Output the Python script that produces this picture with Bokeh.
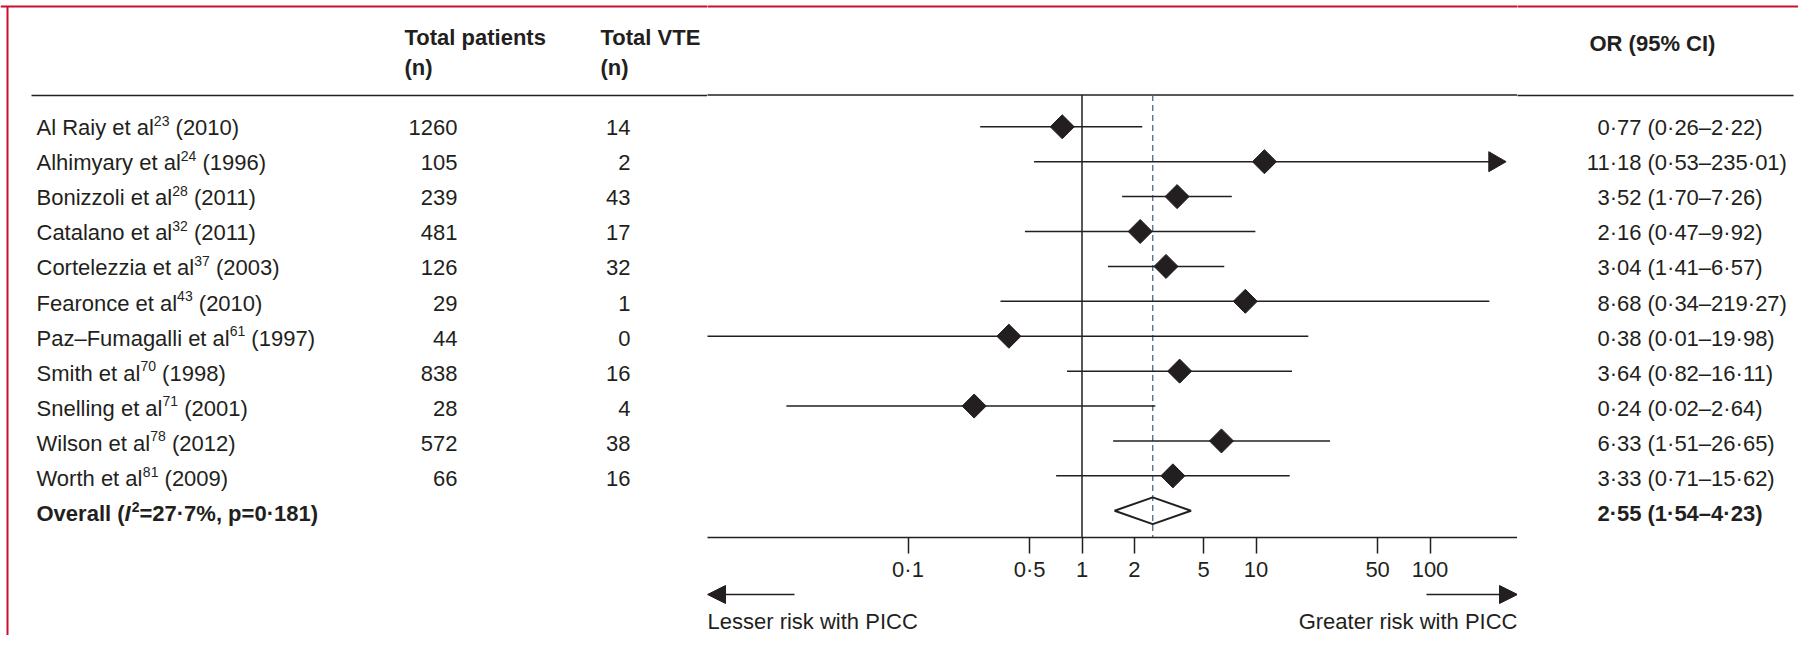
from math import pi
from bokeh.plotting import figure
from bokeh.layouts import row, column
from bokeh.models import Range1d, FixedTicker, Arrow, NormalHead, ColumnDataSource
from bokeh.core.properties import value
from bokeh.embed import file_html
from bokeh.resources import INLINE

# ---------------- data ----------------
authors = ["Al Raiy", "Alhimyary", "Bonizzoli", "Catalano", "Cortelezzia", "Fearonce",
           "Paz–Fumagalli", "Smith", "Snelling", "Wilson", "Worth"]
refs = ["23", "24", "28", "32", "37", "43", "61", "70", "71", "78", "81"]
years = ["2010", "1996", "2011", "2011", "2003", "2010", "1997", "1998", "2001", "2012", "2009"]
patients = [1260, 105, 239, 481, 126, 29, 44, 838, 28, 572, 66]
vte = [14, 2, 43, 17, 32, 1, 0, 16, 4, 38, 16]
or_est = [0.77, 11.18, 3.52, 2.16, 3.04, 8.68, 0.38, 3.64, 0.24, 6.33, 3.33]
ci_lo = [0.26, 0.53, 1.70, 0.47, 1.41, 0.34, 0.007, 0.82, 0.02, 1.51, 0.71]
ci_hi = [2.22, 235.01, 7.26, 9.92, 6.57, 219.27, 19.98, 16.11, 2.64, 26.65, 15.62]
ci_truncated = [False, True, False, False, False, False, False, False, False, False, False]
overall_parts = ["Overall (", "I", "2", "=27·7%, p=0·181)"]
overall_est, overall_lo, overall_hi = 2.55, 1.54, 4.23
ticks = [0.1, 0.5, 1, 2, 5, 10, 50, 100]
header_cols = ["Total patients", "Total VTE"]
header_sub = ["(n)", "(n)"]
or_header = "OR (95% CI)"
left_note = "Lesser risk with PICC"
right_note = "Greater risk with PICC"

# ---------------- style / geometry ----------------
FONT = "Liberation Sans"
FSN = 22
FS = f"{FSN}px"
SUPN = 14
INK = "#231f20"
CRIMSON = "#c8102e"
DASH_COL = "#4d6a80"
ROW_PX = 35.1
ROW0 = 127.0

# Liberation Sans (Arial-metric) advance widths, per 1000 em
W_REG = {" ": 278, "(": 333, ")": 333, "–": 556, "A": 667, "B": 667, "C": 722, "F": 611,
         "P": 667, "R": 722, "S": 667, "W": 944, "a": 556, "c": 500, "e": 556, "g": 556,
         "h": 556, "i": 222, "l": 222, "m": 833, "n": 556, "o": 556, "r": 333, "s": 500,
         "t": 278, "u": 556, "y": 500, "z": 500}
W_BOLD = {"O": 778, "v": 556, "e": 556, "r": 389, "a": 556, "l": 278, " ": 278, "(": 333,
          "I": 278}


def tw(s, size, table=W_REG):
    return sum(table.get(c, 556) for c in s) * size / 1000.0


def yv(page_y):
    return (ROW0 - page_y) / ROW_PX


Y_TOP = yv(0)
Y_MID_BOTTOM = yv(540)
Y_FULL_BOTTOM = yv(635)
Y_HEAD1, Y_HEAD2, Y_ORHEAD, Y_RULE, Y_BORDER = yv(37), yv(67), yv(43), yv(95), yv(6)

n = len(authors)
rows_y = [-i for i in range(n)]
y_over = -n


def fmt(v):
    return f"{v:.2f}".replace(".", "·")


def base_fig(**kw):
    p = figure(toolbar_location=None, output_backend="svg", min_border=0,
               outline_line_color=None, background_fill_color="white",
               border_fill_color="white", **kw)
    p.grid.visible = False
    return p


def txt(p, x, y, text, align="left", style="normal", size=FS, dy=0):
    src = ColumnDataSource(dict(x=x, y=y, text=text))
    p.text(x="x", y="y", text="text", source=src, text_font=value(FONT),
           text_font_size=size, text_color=INK, text_align=align,
           text_baseline="middle", text_font_style=style, y_offset=dy)


# ---------------- left table ----------------
LX = 36
left = base_fig(width=707, height=635, x_range=Range1d(0, 707),
                y_range=Range1d(Y_FULL_BOTTOM, Y_TOP),
                x_axis_location=None, y_axis_location=None)
bases = [f"{a} et al" for a in authors]
x_sup = [LX + tw(b, FSN) for b in bases]
x_rest = [xs + tw(r, SUPN) + tw(" ", FSN) for xs, r in zip(x_sup, refs)]
txt(left, [LX] * n, rows_y, bases)
txt(left, x_sup, rows_y, refs, size=f"{SUPN}px", dy=-7)
txt(left, x_rest, rows_y, [f"({y})" for y in years])
txt(left, [457] * n, rows_y, [str(v) for v in patients], align="right")
txt(left, [630] * n, rows_y, [str(v) for v in vte], align="right")
txt(left, [404, 600], [Y_HEAD1] * 2, header_cols, style="bold")
txt(left, [404, 600], [Y_HEAD2] * 2, header_sub, style="bold")
ox1 = LX + tw(overall_parts[0], FSN, W_BOLD)
ox2 = ox1 + tw(overall_parts[1], FSN, W_BOLD) + 1
ox3 = ox2 + tw(overall_parts[2], SUPN)
txt(left, [LX], [y_over], [overall_parts[0]], style="bold")
txt(left, [ox1], [y_over], [overall_parts[1]], style="bold italic")
txt(left, [ox2], [y_over], [overall_parts[2]], style="bold", size=f"{SUPN}px", dy=-7)
txt(left, [ox3], [y_over], [overall_parts[3]], style="bold")
left.segment(x0=[31], y0=[Y_RULE], x1=[720], y1=[Y_RULE], line_color=INK, line_width=1.5)
left.segment(x0=[0], y0=[Y_BORDER], x1=[720], y1=[Y_BORDER], line_color=CRIMSON, line_width=2)
left.segment(x0=[7], y0=[Y_BORDER], x1=[7], y1=[Y_FULL_BOTTOM - 1], line_color=CRIMSON, line_width=2)

# ---------------- forest ----------------
XR = Range1d(10 ** ((707 - 1081.5) / 174), 10 ** ((1517 - 1081.5) / 174))
mid = base_fig(width=810, height=584, x_axis_type="log", x_range=XR,
               y_range=Range1d(Y_MID_BOTTOM, Y_TOP), y_axis_location=None,
               min_border_bottom=44)
mid.xaxis.ticker = FixedTicker(ticks=ticks, minor_ticks=[])
mid.xaxis.major_label_overrides = {float(t): str(t).replace(".", "·") for t in ticks}
ax = mid.xaxis[0]
ax.axis_line_color = INK
ax.axis_line_width = 1.5
ax.major_tick_line_color = INK
ax.major_tick_line_width = 1.5
ax.major_tick_out = 16
ax.major_tick_in = 0
ax.minor_tick_line_color = None
ax.major_label_text_font = FONT
ax.major_label_text_font_size = FS
ax.major_label_text_color = INK
ax.major_label_standoff = 3

mid.segment(x0=[XR.start / 1.2], y0=[Y_RULE], x1=[XR.end * 1.2], y1=[Y_RULE], line_color=INK, line_width=1.5)
mid.segment(x0=[XR.start / 1.2], y0=[Y_BORDER], x1=[XR.end * 1.2], y1=[Y_BORDER], line_color=CRIMSON, line_width=2)
mid.segment(x0=[1], y0=[Y_RULE], x1=[1], y1=[Y_MID_BOTTOM], line_color=INK, line_width=1.5)
mid.segment(x0=[overall_est], y0=[Y_RULE], x1=[overall_est], y1=[Y_MID_BOTTOM],
            line_color=DASH_COL, line_width=1.3, line_dash="6 4")

mid.segment(x0=ci_lo, y0=rows_y, x1=ci_hi, y1=rows_y, line_color=INK, line_width=1.5)
mid.scatter(x=or_est, y=rows_y, marker="square", angle=pi / 4, size=17,
            fill_color=INK, line_color=INK)
tx = [h for h, t in zip(ci_hi, ci_truncated) if t]
ty = [yy for yy, t in zip(rows_y, ci_truncated) if t]
mid.scatter(x=tx, y=ty, marker="triangle", angle=-pi / 2, size=20,
            fill_color=INK, line_color=INK)
half_h = 13.5 / ROW_PX
mid.patch(x=[overall_lo, overall_est, overall_hi, overall_est],
          y=[y_over, y_over + half_h, y_over, y_over - half_h],
          fill_color=None, line_color=INK, line_width=2)

# ---------------- bottom arrows ----------------
bot = base_fig(width=810, height=51, x_axis_type="log", x_range=XR,
               y_range=Range1d(0, 51), x_axis_location=None, y_axis_location=None)
head = dict(size=18, fill_color=INK, line_color=INK)
bot.add_layout(Arrow(end=NormalHead(**head), x_start=XR.start * 10 ** (87 / 174), y_start=41,
                     x_end=XR.start, y_end=41, line_color=INK, line_width=1.5))
bot.add_layout(Arrow(end=NormalHead(**head), x_start=XR.end / 10 ** (91 / 174), y_start=41,
                     x_end=XR.end, y_end=41, line_color=INK, line_width=1.5))
txt(bot, [XR.start], [14], [left_note])
txt(bot, [XR.end], [14], [right_note], align="right")

# ---------------- right column ----------------
right = base_fig(width=281, height=635, x_range=Range1d(0, 281),
                 y_range=Range1d(Y_FULL_BOTTOM, Y_TOP),
                 x_axis_location=None, y_axis_location=None)
txt(right, [72], [Y_ORHEAD], [or_header], style="bold")
txt(right, [124] * n, rows_y, [fmt(v) for v in or_est], align="right")
txt(right, [130] * n, rows_y, [f"({fmt(a)}–{fmt(b)})" for a, b in zip(ci_lo, ci_hi)])
txt(right, [124], [y_over], [fmt(overall_est)], align="right", style="bold")
txt(right, [130], [y_over], [f"({fmt(overall_lo)}–{fmt(overall_hi)})"], style="bold")
right.segment(x0=[-10], y0=[Y_RULE], x1=[276], y1=[Y_RULE], line_color=INK, line_width=1.5)
right.segment(x0=[-10], y0=[Y_BORDER], x1=[300], y1=[Y_BORDER], line_color=CRIMSON, line_width=2)

layout = row(left, column(mid, bot), right)
open("out.html", "w").write(file_html(layout, INLINE))
